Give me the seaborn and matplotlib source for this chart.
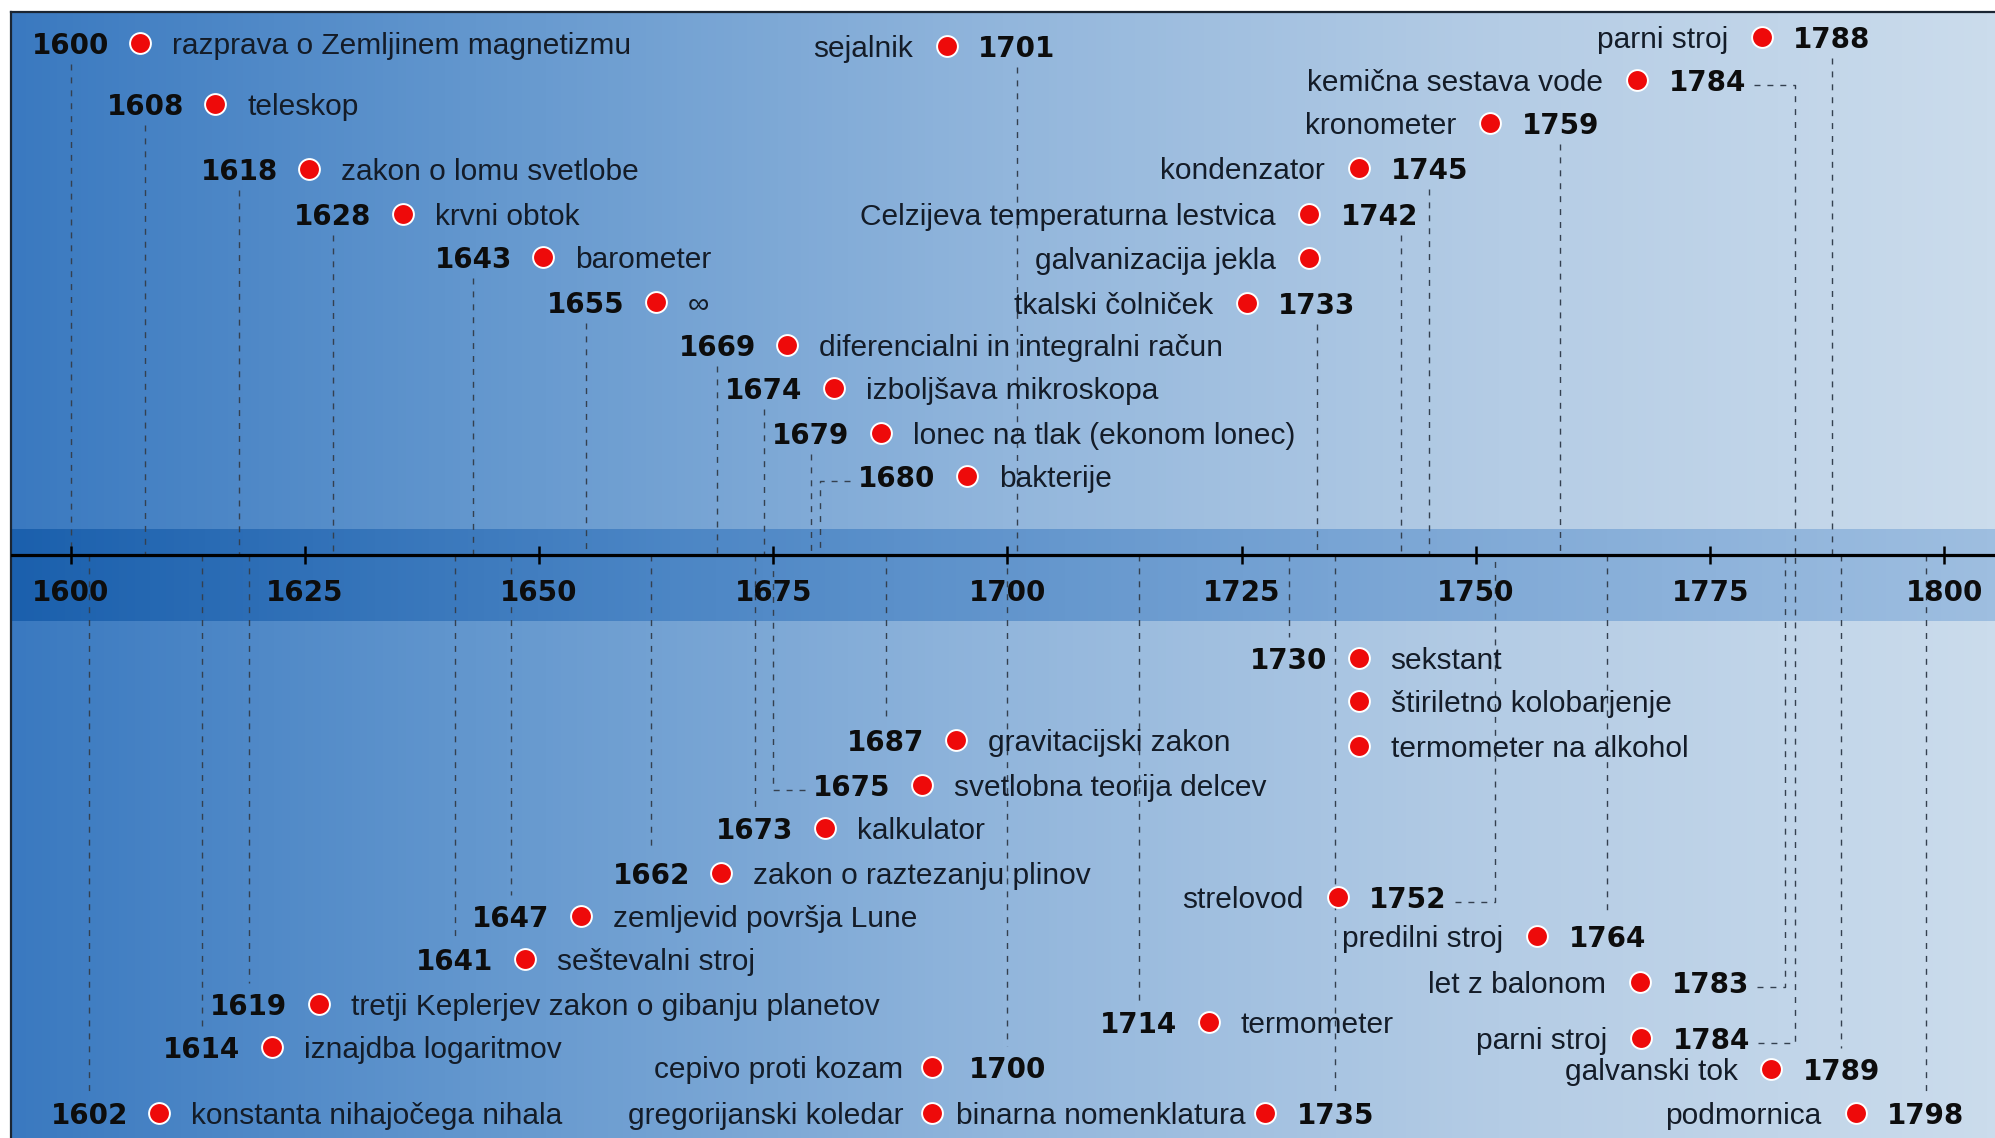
import numpy as np
import pandas as pd
import matplotlib
matplotlib.use("Agg")
import matplotlib.pyplot as plt
import seaborn as sns
from matplotlib.colors import LinearSegmentedColormap

# ===== 1. Podatki =====
years = [1600, 1608, 1618, 1628, 1643, 1655, 1669, 1674, 1679, 1680,
         1701, 1788, 1784, 1759, 1745, 1742, 1742, 1733,
         1730, 1730, 1730, 1687, 1675, 1673, 1662, 1647, 1641, 1619, 1614, 1602,
         1700, 1700, 1735, 1714, 1752, 1764, 1783, 1784, 1789, 1798]

labels = ["razprava o Zemljinem magnetizmu", "teleskop", "zakon o lomu svetlobe",
          "krvni obtok", "barometer", "∞", "diferencialni in integralni račun",
          "izboljšava mikroskopa", "lonec na tlak (ekonom lonec)", "bakterije",
          "sejalnik", "parni stroj", "kemična sestava vode", "kronometer",
          "kondenzator", "Celzijeva temperaturna lestvica", "galvanizacija jekla",
          "tkalski čolniček",
          "sekstant", "štiriletno kolobarjenje", "termometer na alkohol",
          "gravitacijski zakon", "svetlobna teorija delcev", "kalkulator",
          "zakon o raztezanju plinov", "zemljevid površja Lune", "seštevalni stroj",
          "tretji Keplerjev zakon o gibanju planetov", "iznajdba logaritmov",
          "konstanta nihajočega nihala",
          "cepivo proti kozam", "gregorijanski koledar", "binarna nomenklatura",
          "termometer", "strelovod", "predilni stroj", "let z balonom",
          "parni stroj", "galvanski tok", "podmornica"]

# letnica izpisana ali ne (dogodki pod isto letnico kot vrstica nad njimi)
show_year = [True] * 16 + [False] + [True] * 2 + [False, False] + [True] * 10 + [False] + [True] * 8

axis_ticks = list(range(1600, 1801, 25))

# ===== 2. Postavitev (vrstica v pikslih od vrha, stran poravnave, zamik letnice v letih) =====
align = ['L'] * 10 + ['R'] * 8 + ['L'] * 12 + ['R'] * 3 + ['L'] + ['R'] * 6
rows = [43, 104, 169, 214, 257, 302, 345, 388, 433, 476,
        46, 37, 80, 123, 168, 214, 258, 303,
        658, 701, 746, 740, 785, 828, 873, 916, 959, 1004, 1047, 1113,
        1067, 1113, 1113, 1022, 897, 936, 982, 1038, 1069, 1113]
shift = [0, 0, 0, 0, 0, 0, 0, 0, 0, 8.2,
         0, 0, -9.3, 0, 0, -2.3, -2.3, 0,
         0, 0, 0, 0, 8.4, 0, 0, 0, 0, 0, 0, 0,
         0, 0, 0, 0, -9.3, 0, -8, -8.9, 0, 0]
above = [True] * 18 + [False] * 22
label_gap_R = {32: 90}   # izjeme pri razmiku napisa na desni strani
dot_gap_R = {30: 75, 31: 75}

W, H = 1995, 1138
PPY = 9.37                      # pikslov na leto
AXIS_Y, BAND = 555, (529, 621)
X0 = 1600 - (70.5 - 11) / PPY
X1 = 1600 + (W - 70.5) / PPY

sns.set_theme(style="white")
plt.rcParams['font.family'] = ['Liberation Sans', 'DejaVu Sans']
plt.rcParams['axes.unicode_minus'] = False

fig = plt.figure(figsize=(W / 100, H / 100), dpi=100, facecolor='white')
ax = fig.add_axes([11 / W, 0, 1 - 11 / W, 1 - 12 / H])

# ozadje z barvnim prelivom
grad = np.linspace(0, 1, 512)[None, :]
bg = LinearSegmentedColormap.from_list('bg', ['#3a79c0', '#6699cf', '#92b6dc', '#b4cce5', '#cbdcec'])
band = LinearSegmentedColormap.from_list('band', ['#1b60ad', '#4c86c5', '#78a4d4', '#9ebee0'])
ax.imshow(grad, extent=[X0, X1, H, 12], aspect='auto', cmap=bg, zorder=0)
ax.imshow(grad, extent=[X0, X1, BAND[1], BAND[0]], aspect='auto', cmap=band, zorder=1)

# os časa
ax.axhline(AXIS_Y, color='black', lw=2.3, zorder=4)
ax.vlines(axis_ticks, AXIS_Y - 9, AXIS_Y + 9, color='black', lw=1.8, zorder=4)
for t in axis_ticks:
    ax.text(t, 601, str(t), ha='center', va='baseline', fontsize=20,
            fontweight='bold', family='DejaVu Sans', color='#0d0d0d', zorder=5)

dash = dict(color='#34404f', lw=1.0, ls=(0, (4.3, 5)), zorder=2)
year_half = 39  # pol širine letnice v pikslih

df = pd.DataFrame({'year': years, 'label': labels, 'show': show_year,
                   'align': align, 'row': rows, 'shift': shift, 'above': above})
df['anchor'] = df['year'] + df['shift']
dgap = [70 if a == 'L' else -dot_gap_R.get(i, 70) for i, a in enumerate(align)]
df['dot_x'] = df['anchor'] + np.array(dgap) / PPY
gap = [102 if a == 'L' else -label_gap_R.get(i, 104) for i, a in enumerate(align)]
df['label_x'] = df['anchor'] + np.array(gap) / PPY

for _, r in df.iterrows():
    y = r['row']
    if r['show']:
        ax.text(r['anchor'], y + 11, str(r['year']), ha='center', va='baseline',
                fontsize=20, fontweight='bold', family='DejaVu Sans',
                color='#0d0d0d', zorder=5)
        connector = abs(r['shift']) * PPY > year_half + 10
        if connector:
            yc = y + 5
            if r['shift'] > 0:
                xe = r['anchor'] - (year_half + 8) / PPY
            else:
                xe = r['anchor'] + (year_half + 8) / PPY
            ax.plot([xe, r['year'], r['year']], [yc, yc, AXIS_Y], **dash)
        elif r['above']:
            ax.plot([r['year'], r['year']], [y + 21, AXIS_Y], **dash)
        else:
            ax.plot([r['year'], r['year']], [AXIS_Y, y - 21], **dash)
    ax.text(r['label_x'], y + 11, r['label'],
            ha='left' if r['align'] == 'L' else 'right', va='baseline',
            fontsize=21.5, color='#141c28', zorder=5)

sns.scatterplot(data=df, x='dot_x', y='row', s=225, color='#ee0a0a',
                edgecolor='white', linewidth=1.4, zorder=6, ax=ax, legend=False)

ax.set_xlim(X0, X1)
ax.set_ylim(H, 12)
ax.set_xticks([])
ax.set_yticks([])
ax.set_xlabel('')
ax.set_ylabel('')
for side in ['right', 'bottom']:
    ax.spines[side].set_visible(False)
for side in ['left', 'top']:
    ax.spines[side].set_color('#1b2633')
    ax.spines[side].set_linewidth(1.6)

fig.savefig('out.png', dpi=100)
